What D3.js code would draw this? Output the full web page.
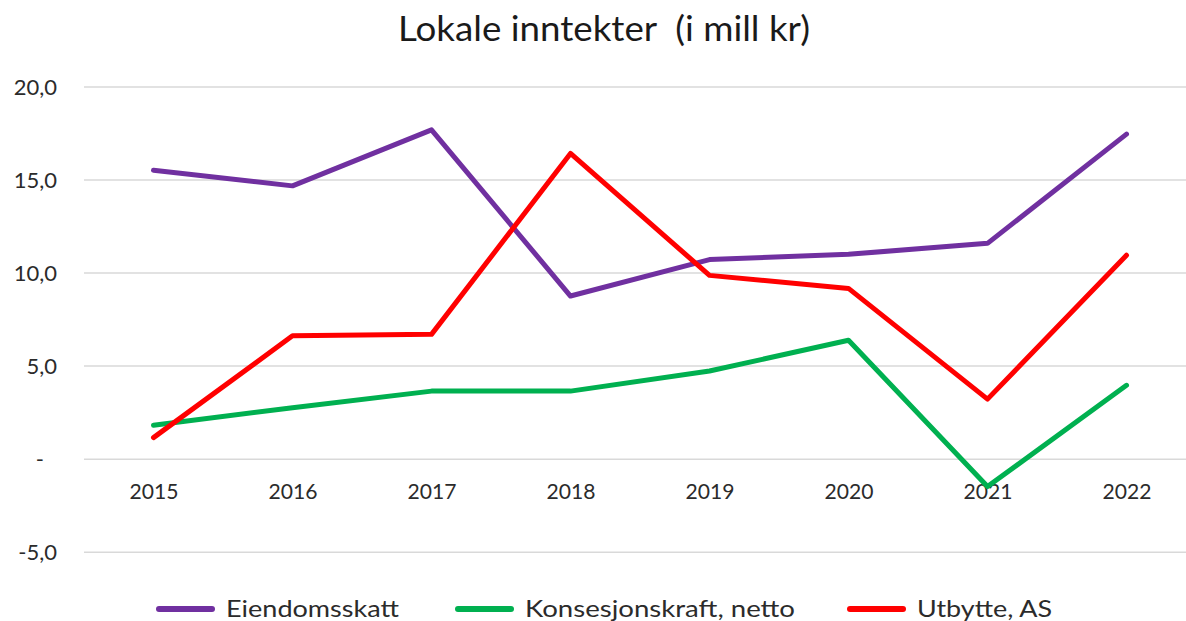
<!DOCTYPE html>
<html>
<head>
<meta charset="utf-8">
<script src="https://cdn.jsdelivr.net/npm/d3@7"></script>
<style>
  html, body { margin: 0; padding: 0; background: #fff; }
  svg { display: block; font-family: Lato, "Open Sans", sans-serif; }
</style>
</head>
<body>
<svg id="chart" width="1186" height="621"></svg>
<script>
const years = ["2015","2016","2017","2018","2019","2020","2021","2022"];
const eiendomsskatt = [15.5, 14.66, 17.67, 8.74, 10.7, 10.98, 11.57, 17.44];
const konsesjonskraft = [1.8, 2.74, 3.63, 3.63, 4.71, 6.36, -1.5, 3.94];
const utbytte = [1.13, 6.6, 6.68, 16.4, 9.85, 9.15, 3.2, 10.93];
const seriesNames = ["Eiendomsskatt", "Konsesjonskraft, netto", "Utbytte, AS"];
const seriesColors = ["#7030A0", "#00B050", "#FF0000"];
const yTicks = [-5, 0, 5, 10, 15, 20];
const yTickLabels = ["-5,0", "-", "5,0", "10,0", "15,0", "20,0"];
const title = "Lokale inntekter  (i mill kr)";

const seriesValues = [eiendomsskatt, konsesjonskraft, utbytte];

const svg = d3.select("#chart");
const x = d3.scalePoint().domain(years).range([84, 1196]).padding(0.5);
const y = d3.scaleLinear().domain([-5, 20]).range([551.7, 86.5]);

// gridlines
const yAxis = d3.axisLeft(y).tickValues(yTicks).tickSize(-(1196 - 84))
  .tickFormat((d, i) => yTickLabels[i]);
const gy = svg.append("g").attr("transform", "translate(84,0)").call(yAxis);
gy.select(".domain").remove();
gy.selectAll(".tick line").attr("stroke", "#d9d9d9").attr("stroke-width", 1.5);
gy.selectAll(".tick text")
  .attr("x", d => d === 0 ? -40 : -27)
  .attr("dy", "0.36em")
  .attr("fill", "#2b2b2b")
  .style("font-size", "22px")
  .style("font-family", "Lato, sans-serif");

// x axis labels
const xAxis = d3.axisBottom(x).tickSize(0).tickPadding(0);
const gx = svg.append("g").attr("transform", "translate(0,499)").call(xAxis);
gx.select(".domain").remove();
gx.selectAll(".tick text")
  .attr("y", 0).attr("dy", 0)
  .attr("fill", "#2b2b2b")
  .style("font-size", "22px")
  .style("font-family", "Lato, sans-serif")
  .attr("textLength", 49).attr("lengthAdjust", "spacingAndGlyphs");

// lines
const line = d3.line().x((d, i) => x(years[i])).y(d => y(d));
seriesValues.forEach((vals, si) => {
  svg.append("path")
    .datum(vals)
    .attr("d", line)
    .attr("fill", "none")
    .attr("stroke", seriesColors[si])
    .attr("stroke-width", 5)
    .attr("stroke-linejoin", "round")
    .attr("stroke-linecap", "round");
});

// title
svg.append("text")
  .attr("x", 398).attr("y", 41)
  .attr("fill", "#1a1a1a")
  .style("font-size", "35px")
  .style("white-space", "pre")
  .attr("xml:space", "preserve")
  .attr("textLength", 412).attr("lengthAdjust", "spacingAndGlyphs")
  .text(title);

// legend
const legendX = [156, 455, 847];
const legendTextW = [173, 270, 135];
const leg = svg.append("g");
seriesNames.forEach((name, i) => {
  leg.append("line")
    .attr("x1", legendX[i] + 3).attr("x2", legendX[i] + 56)
    .attr("y1", 609).attr("y2", 609)
    .attr("stroke", seriesColors[i]).attr("stroke-width", 6)
    .attr("stroke-linecap", "round");
  leg.append("text")
    .attr("x", legendX[i] + 70).attr("y", 616.5)
    .attr("fill", "#2b2b2b")
    .style("font-size", "23px")
    .attr("textLength", legendTextW[i]).attr("lengthAdjust", "spacingAndGlyphs")
    .text(name);
});
</script>
</body>
</html>
